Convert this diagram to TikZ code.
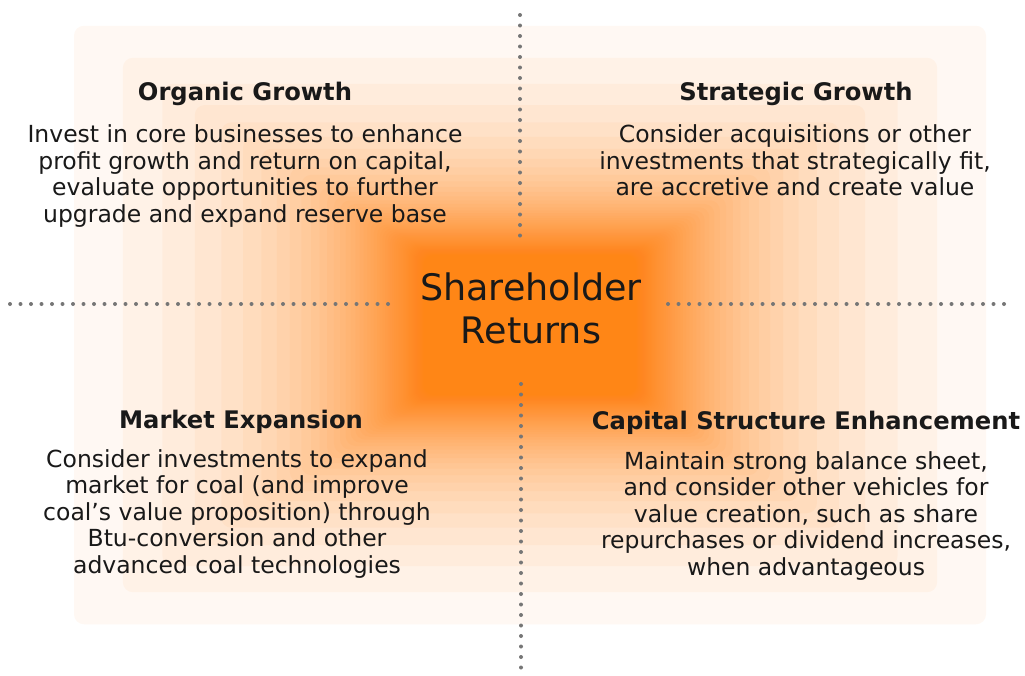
\documentclass[tikz,border=0pt]{standalone}
\usepackage{fontspec}
\setmainfont{DejaVu Sans}
\usetikzlibrary{positioning}
\definecolor{glow}{RGB}{255,134,22}
\definecolor{dotgray}{RGB}{118,118,118}
\definecolor{ink}{RGB}{25,25,25}
\tikzset{
    headnode/.style = {inner sep=0pt, anchor=base, text=ink, font=\bfseries\fontsize{24.2}{28}\selectfont},
    bodynode/.style = {inner sep=0pt, anchor=base, align=center, text=ink, font=\fontsize{23.5}{26.6}\selectfont},
    centernode/.style = {inner sep=0pt, anchor=base, align=center, text=ink, font=\fontsize{36.5}{43}\selectfont},
    divider/.style = {dotgray, line width=4pt, line cap=round, dash pattern=on 0pt off 10.5pt},
    glowbox/.style = {glow, fill opacity=0.05, rounded corners=10pt}
}

\begin{document}
\begin{tikzpicture}[x=1pt,y=-1pt]
\useasboundingbox (0,0) rectangle (1025,675);
\fill[white] (0,0) rectangle (1025,675);
%
% orange glow, nested boxes
\foreach \i in {0,...,59}{
    \pgfmathsetmacro{\d}{0.2+0.379*exp(-\i/4)+0.371*exp(-\i/20)}
    \fill[glowbox] (530-480*\d,325-315*\d) rectangle (530+480*\d,325+315*\d);
}
%
% dividers
\coordinate (vtop) at (520,15);
\coordinate (vmid) at (520,238);
\coordinate (vlow) at (521,384);
\coordinate (vbot) at (521,670);
\coordinate (hleft) at (10,304);
\coordinate (hlmid) at (393,304);
\coordinate (hrmid) at (668,304);
\coordinate (hright) at (1011,304);
\draw[divider] (vtop) -- (vmid);
\draw[divider] (vlow) -- (vbot);
\draw[divider] (hleft) -- (hlmid);
\draw[divider] (hrmid) -- (hright);
%
\node[centernode] (sr) at (531,343) {Shareholder\\Returns};
%
\node[headnode] (og) at (245,100) {Organic Growth};
\node[bodynode] (ogtext) at (245,222.5) {Invest in core businesses to enhance\\profit growth and return on capital,\\evaluate opportunities to further\\upgrade and expand reserve base};
%
\node[headnode] (sg) at (796,100) {Strategic Growth};
\node[bodynode] (sgtext) at (795,195.9) {Consider acquisitions or other\\investments that strategically fit,\\are accretive and create value};
%
\node[headnode] (me) at (241,428) {Market Expansion};
\node[bodynode] (metext) at (237,573.4) {Consider investments to expand\\market for coal (and improve\\coal’s value proposition) through\\Btu-conversion and other\\advanced coal technologies};
%
\node[headnode] (cs) at (806,429) {Capital Structure Enhancement};
\node[bodynode] (cstext) at (806,575.4) {Maintain strong balance sheet,\\and consider other vehicles for\\value creation, such as share\\repurchases or dividend increases,\\when advantageous};
\end{tikzpicture}
\end{document}
